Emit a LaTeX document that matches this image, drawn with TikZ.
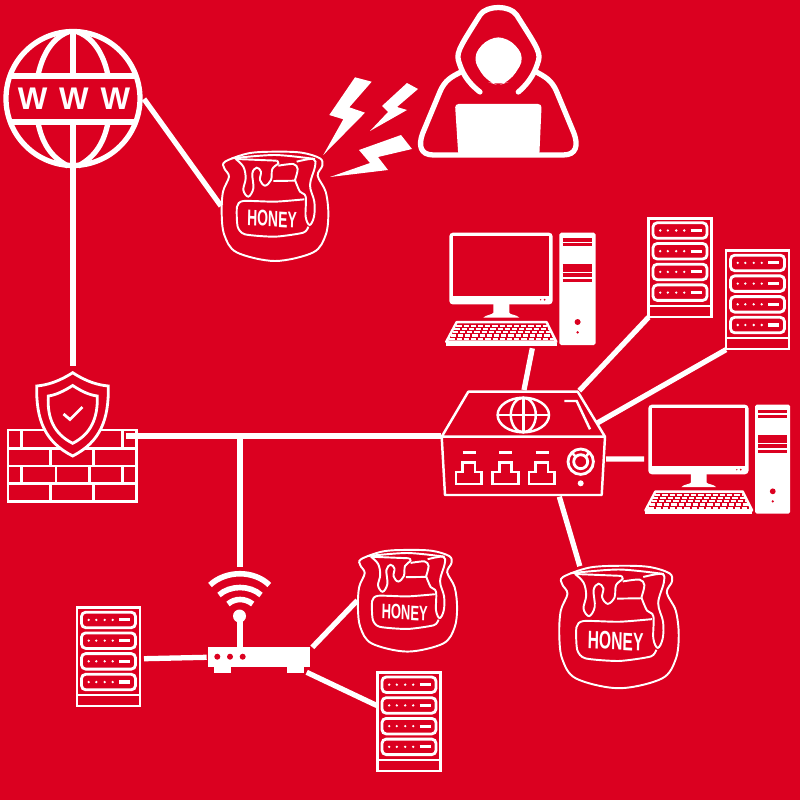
\documentclass[tikz,border=0pt]{standalone}
\usepackage{fontspec}
\newfontfamily\iconfont{Liberation Sans}
\newfontfamily\wwwfont[LetterSpace=38]{Liberation Sans}
\definecolor{honeyred}{RGB}{219,0,32}
\tikzset{
  link/.style={draw=white,line width=1.5pt},
  thin line/.style={draw=white,line width=.7pt},
  rack/.pic={
    \draw[thin line] (0,0) rectangle (63,98.5);
    \draw[thin line] (0,87.5)--(63,87.5);
    \foreach \yy in {0,20.7,41.4,62.1}{
      \draw[thin line,line width=.8pt,rounded corners=1.2pt] (4.5,4.5+\yy) rectangle (58.5,20+\yy);
      \foreach \xx in {11.7,19.3,27.7,35.7}
        \fill[white] (\xx,12.2+\yy) circle (1.3);
      \draw[white,line width=.9pt] (42,12.2+\yy)--(53,12.2+\yy);
    }
    \coordinate (-sw) at (0,99);
    \coordinate (-e) at (67,51);
    \coordinate (-w) at (-.7,33);
  },
  pc/.pic={
    \fill[white,rounded corners=1pt] (0,0) rectangle (103.3,71.7);
    \fill[honeyred] (4,3.5) rectangle (100,63);
    \fill[honeyred] (91.3,67) circle (.7) (95.3,67) circle (1);
    \fill[white] (44,71)--(60,71)--(60,80) .. controls (60,82) and (68,82) .. (70,85)--(34,85) .. controls (36,82) and (44,82) .. (44,80)--cycle;
    \draw[thin line,line join=round] (7.3,89.5)--(97.3,89.5)--(107,109)--(-3,109)--cycle;
    \fill[white] (-3.3,110)rectangle(107.3,113);
    \foreach \yy/\xa/\xb in {93/7/98,96.3/5/100,99.6/3.5/102,102.9/1.5/103.5,106.2/0/105}
      \draw[white,line width=.65pt,dash pattern=on .52mm off .2mm] (\xa,\yy)--(\xb,\yy);
    \fill[white,rounded corners=.5pt] (110,0) rectangle (146.3,112.3);
    \foreach \yy/\hh in {7.3/.9,12/.9,33/1.1,37.7/1.1,42.3/1.1,48/.9}
      \draw[honeyred,line width=\hh pt] (113.3,\yy)--(143,\yy);
    \fill[honeyred] (128.3,89.3) circle (3) (128.3,99.7) circle (1.3);
    \coordinate (-s) at (83,115.6);
    \coordinate (-w) at (-4.4,56);
  },
  jar/.pic={
    \begin{scope}[scale=.3333,shift={(-180,-180)},thin line,line width=.55pt]
      \draw plot[smooth cycle,tension=.55] coordinates {(30,50)(100,25)(180,20)(260,23)(315,40)(322,62)(308,92)(332,140)(340,205)(332,270)(295,322)(180,348)(65,322)(28,270)(20,205)(24,140)(42,95)(28,70)};
      \draw plot[smooth,tension=.5] coordinates {(50,40)(180,30)(300,42)};
      \draw (62,42)--(185,47);
      \draw plot[smooth,tension=.6] coordinates {(62,42)(85,65)(92,100)(85,135)(100,155)(115,130)(112,85)(125,68)(138,80)(135,105)(150,122)(168,105)(172,72)(190,55)(185,47)};
      \draw plot[smooth,tension=.5] coordinates {(190,62)(235,57)(248,72)(240,105)};
      \draw (240,107)--(175,108);
      \draw plot[smooth,tension=.6] coordinates {(240,105)(255,140)(272,155)(272,215)(284,240)(297,215)(298,170)(285,120)(300,65)(295,42)(245,50)};
      \draw plot[smooth,tension=.4] coordinates {(268,163)(180,170)(85,168)(66,185)(68,245)(90,268)(180,275)(265,263)(280,245)};
    \end{scope}
    \node[transform shape,text=white,font=\iconfont\bfseries\fontsize{6.4pt}{6.4pt}\selectfont,xscale=.62,rotate=-2,inner sep=0pt] (-label) at (-3,14) {HONEY};
    \coordinate (-w) at (-54,1);
    \coordinate (-nw) at (-35,-53);
  },
}
\begin{document}
\begin{tikzpicture}[x=.01cm,y=-.01cm]
\path[use as bounding box,fill=honeyred] (0,0) rectangle (800,800);
\coordinate (globeE) at (144,99);
\coordinate (globeS) at (73,168);
\coordinate (wallN) at (73,366);
\coordinate (wallE) at (126,436);
\coordinate (tee) at (240,436);
\coordinate (wifiN) at (240,567);
\coordinate (routerW) at (206.7,657.3);
\coordinate (routerNE) at (312.3,647.3);
\coordinate (routerSE) at (306.7,672.3);
\coordinate (hubW) at (441,436);
\coordinate (hubN) at (524,390);
\coordinate (hubNE) at (579.3,390.7);
\coordinate (hubR) at (596.7,423.3);
\coordinate (hubE) at (606,459);
\coordinate (hubS) at (559.3,496.7);

\draw[link] (73,98.5) circle (67);
\draw[link] (10.5,76)--(135.5,76);
\draw[link] (10.5,122)--(135.5,122);
\draw[link] (73,31)--(73,76);
\draw[link] (73,122)--(73,166);
\draw[link] (38.3,74) .. controls (43,53) and (53,38) .. (68,32);
\draw[link] (107.7,74) .. controls (103,53) and (93,38) .. (78,32);
\draw[link] (38.3,124) .. controls (43,146) and (53,158) .. (68,166);
\draw[link] (107.7,124) .. controls (103,146) and (93,158) .. (78,166);
\node[text=white,font=\wwwfont\bfseries\fontsize{8.9pt}{8.9pt}\selectfont,inner sep=0pt] (www) at (74,99) {WWW};

\begin{scope}[shift={(320,0)},scale=.3333]
\draw[link,line cap=round,line join=round] (480,276) .. controls (440,245) and (425,215) .. (415,180) .. controls (408,155) and (430,125) .. (480,45) .. controls (500,15) and (570,15) .. (590,45) .. controls (640,125) and (663,155) .. (656,180) .. controls (646,215) and (631,245) .. (595,276);
\draw[link,line join=round] (425,215) .. controls (395,230) and (375,240) .. (360,275) -- (308,400) .. controls (295,435) and (300,465) .. (340,465) -- (730,465) .. controls (770,465) and (775,435) .. (762,400) -- (710,275) .. controls (695,240) and (675,230) .. (647,215);
\fill[white,rounded corners=3pt] (505,112)--(565,112)--(616,172)--(570,245)--(535,256)--(500,245)--(456,172)--cycle;
\fill[white,rounded corners=1pt] (405,312)--(665,312)--(658,467)--(415,467)--cycle;
\end{scope}

\fill[white] (355,77.3)--(371.7,81.7)--(349.3,107.3)--(365,112.7)--(323.3,155)--(343.3,119.3)--(329.3,115)--cycle;
\fill[white] (407,83)--(418,89)--(397,107)--(407,110)--(370,131)--(388,112)--(382,106)--cycle;
\fill[white] (401,135)--(412,149)--(378,157)--(388,170)--(330,177)--(370,163)--(359,150)--cycle;

\pic (jarA) at (275,205) {jar};
\pic[scale=.93] (jarB) at (407.5,599.5) {jar};
\pic[scale=1.12] (jarC) at (619,625.5) {jar};
\pic (pcA) at (449.3,232.7) {pc};
\pic[scale=.97] (pcB) at (648.3,404.7) {pc};
\pic (rackA) at (648.5,218.3) {rack};
\pic (rackB) at (726,250.7) {rack};
\pic (rackC) at (77,607.7) {rack};
\pic (rackD) at (377.5,672.5) {rack};

\draw[thin line] (8,430) rectangle (136.7,501.7);
\foreach \yy in {448.3,466,483.3}
  \draw[thin line] (8,\yy)--(136.7,\yy);
\foreach \xx in {21.7,122.7}{
  \draw[thin line] (\xx,430)--(\xx,448.3);
  \draw[thin line] (\xx,466)--(\xx,483.3);
}
\foreach \xx in {50.7,93.3}{
  \draw[thin line] (\xx,448.3)--(\xx,466);
  \draw[thin line] (\xx,483.3)--(\xx,501.7);
}
\draw[thin line] (56,466)--(56,483.3);
\draw[thin line] (89.3,466)--(89.3,483.3);
\filldraw[fill=honeyred,draw=white,line width=.8pt] (72.7,372.7) .. controls (87,382) and (98,385) .. (108.3,386) .. controls (109,420) and (100,442) .. (72.7,456) .. controls (45,442) and (36,420) .. (36.7,386) .. controls (47,385) and (58,382) .. (72.7,372.7) -- cycle;
\draw[thin line,line width=.8pt] (72.7,385.5) .. controls (81,391) and (89,395) .. (97.3,396) .. controls (98,418) and (91,434) .. (72.7,443.3) .. controls (54,434) and (47,418) .. (48.3,396) .. controls (56,395) and (64,391) .. (72.7,385.5) -- cycle;
\draw[thin line,line width=.8pt] (63.5,414)--(70,419.5)--(82.5,407);

\draw[thin line,line join=round] (468.3,391.7)--(577.7,391.7)--(605,436.7)--(441.7,436.7)--cycle;
\draw[thin line,line join=round] (441.7,436.7)--(445,495)--(601.7,495)--(605,436.7);
\draw[thin line] (523.3,415) ellipse (25.7 and 17.3);
\draw[thin line] (523.3,415) ellipse (12.5 and 17.3);
\draw[thin line] (523.3,397.7)--(523.3,432.3);
\draw[thin line] (497.6,415)--(549,415);
\draw[thin line] (564.3,401)--(576.7,401)--(590,429.3);
\foreach \xx in {456,492.7,529}{
  \draw[thin line] (\xx,484)--(\xx,472)--(\xx+6.7,472)--(\xx+6.7,462.3)--(\xx+19,462.3)--(\xx+19,472)--(\xx+25.7,472)--(\xx+25.7,484)--cycle;
  \draw[thin line] (\xx+6.5,452.7)--(\xx+19.5,452.7);
}
\draw[thin line,line width=.8pt] (580.7,461.7) circle (12.7);
\draw[thin line,line width=.8pt] (580.7,461.7) circle (7);
\draw[thin line] (572,452.7)--(575.8,456.7);
\draw[thin line] (589.4,452.7)--(585.6,456.7);
\fill[white] (580.7,483.3) circle (3);

\fill[white] (207.7,647.3) rectangle (310,666.7);
\fill[white] (214,666.7) rectangle (230.7,673.3);
\fill[white] (287.3,666.7) rectangle (304,673.3);
\fill[honeyred] (217.3,656.7) circle (3) (230,656.7) circle (3) (242.7,656.7) circle (3);
\draw[white,line width=1.5pt] (240,616)--(240,648);
\fill[white] (239.5,616) circle (6.5);
\draw[white,line width=1.6pt] (210,585) .. controls (226,570) and (254,570) .. (269.3,585);
\draw[white,line width=1.6pt] (219,595) .. controls (230,585) and (250,585) .. (261,595);
\draw[white,line width=1.6pt] (228,604) .. controls (235,598) and (245,598) .. (252.7,604);

\draw[link] (globeE)--(jarA-w);
\draw[link] (globeS)--(wallN);
\draw[link] (wallE)--(hubW);
\draw[link] (tee)--(wifiN);
\draw[link] (pcA-s)--(hubN);
\draw[link] (rackA-sw)--(hubNE);
\draw[link] (rackB-sw)--(hubR);
\draw[link] (hubE)--(pcB-w);
\draw[link] (hubS)--(jarC-nw);
\draw[link] (rackC-e)--(routerW);
\draw[link] (routerNE)--(jarB-w);
\draw[link] (routerSE)--(rackD-w);
\end{tikzpicture}
\end{document}
